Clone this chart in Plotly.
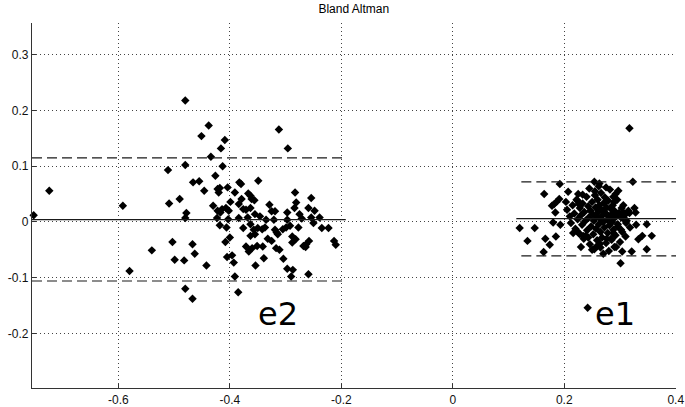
import plotly.graph_objects as go

# difference points (x = mean, y = difference)
e2_pts = [
    (-0.480, 0.218), (-0.480, 0.102), (-0.511, 0.093), (-0.724, 0.056), (-0.466, 0.071),
    (-0.455, 0.073), (-0.490, 0.041), (-0.509, 0.033), (-0.592, 0.029), (-0.478, 0.016),
    (-0.480, 0.007), (-0.752, 0.012), (-0.503, -0.036), (-0.467, -0.040), (-0.540, -0.051),
    (-0.463, -0.057), (-0.499, -0.068), (-0.482, -0.069), (-0.580, -0.088), (-0.480, -0.120),
    (-0.467, -0.138),
    (-0.438, 0.173), (-0.451, 0.154), (-0.409, 0.147), (-0.416, 0.132), (-0.312, 0.166),
    (-0.296, 0.132),
    (-0.434, 0.117), (-0.413, 0.100), (-0.426, 0.083), (-0.446, 0.056), (-0.422, 0.059),
    (-0.418, 0.061), (-0.404, 0.062), (-0.383, 0.071), (-0.380, 0.068), (-0.349, 0.074),
    (-0.391, 0.053), (-0.367, 0.051), (-0.363, 0.047), (-0.356, 0.039), (-0.361, 0.041),
    (-0.379, 0.041), (-0.399, 0.036), (-0.420, 0.053),
    (-0.430, 0.029), (-0.422, 0.020), (-0.414, 0.023), (-0.407, 0.025), (-0.402, 0.020),
    (-0.417, 0.017), (-0.384, 0.032), (-0.376, 0.023), (-0.371, 0.022), (-0.363, 0.025),
    (-0.329, 0.031), (-0.325, 0.019), (-0.319, 0.019), (-0.297, 0.017), (-0.283, 0.053),
    (-0.281, 0.035), (-0.254, 0.043), (-0.284, 0.025), (-0.259, 0.025), (-0.248, 0.020),
    (-0.275, 0.014),
    (-0.423, 0.007), (-0.403, 0.005), (-0.384, 0.007), (-0.368, 0.008), (-0.355, 0.014),
    (-0.346, 0.010), (-0.335, 0.004), (-0.321, 0.004), (-0.297, 0.004), (-0.271, 0.006),
    (-0.254, 0.008), (-0.239, 0.008),
    (-0.418, -0.006), (-0.406, -0.010), (-0.376, -0.011), (-0.363, -0.004), (-0.357, -0.014),
    (-0.350, -0.011), (-0.342, -0.013), (-0.337, -0.010), (-0.319, -0.014), (-0.316, -0.019),
    (-0.305, -0.013), (-0.299, -0.010), (-0.292, -0.007), (-0.277, -0.010), (-0.250, -0.002),
    (-0.235, -0.011), (-0.223, -0.011),
    (-0.400, -0.028), (-0.363, -0.025), (-0.355, -0.022), (-0.332, -0.030), (-0.325, -0.034),
    (-0.314, -0.022), (-0.288, -0.026), (-0.282, -0.031), (-0.288, -0.037), (-0.408, -0.036),
    (-0.371, -0.044), (-0.360, -0.047), (-0.351, -0.043), (-0.341, -0.044), (-0.317, -0.047),
    (-0.311, -0.050), (-0.268, -0.043), (-0.263, -0.040), (-0.264, -0.045), (-0.258, -0.034),
    (-0.213, -0.034), (-0.210, -0.041),
    (-0.366, -0.053), (-0.396, -0.060), (-0.405, -0.063), (-0.393, -0.073), (-0.339, -0.065),
    (-0.304, -0.066), (-0.354, -0.078), (-0.297, -0.084), (-0.287, -0.086), (-0.290, -0.098),
    (-0.259, -0.094), (-0.391, -0.098), (-0.385, -0.126), (-0.442, -0.078),
]

e1_pts = [
    (0.192, 0.068), (0.254, 0.072), (0.164, 0.050), (0.207, 0.054), (0.191, 0.041),
    (0.186, 0.036), (0.182, 0.032), (0.178, 0.029), (0.203, 0.036), (0.184, 0.017),
    (0.180, -0.001), (0.193, -0.005), (0.120, -0.011), (0.147, -0.011), (0.185, -0.026),
    (0.166, -0.030), (0.134, -0.034), (0.174, -0.041), (0.163, -0.054), (0.242, -0.154),
    (0.224, 0.038), (0.226, 0.032), (0.233, 0.049), (0.222, -0.016), (0.228, -0.022),
    (0.234, -0.025), (0.243, -0.028), (0.254, -0.049),
    (0.317, 0.168), (0.323, 0.072), (0.263, 0.069), (0.297, 0.056), (0.292, 0.050),
    (0.288, 0.045), (0.290, 0.036), (0.303, 0.025), (0.326, 0.025), (0.328, 0.017),
    (0.317, 0.016), (0.307, 0.016), (0.329, -0.005), (0.348, -0.004), (0.340, -0.025),
    (0.357, -0.025), (0.333, -0.031), (0.348, -0.049), (0.304, -0.053), (0.321, -0.053),
    (0.270, -0.057), (0.301, -0.074), (0.293, -0.045), (0.285, -0.032), (0.276, -0.030),
    (0.288, -0.020), (0.258, -0.044), (0.264, -0.039), (0.296, -0.008), (0.302, -0.014),
    (0.311, -0.002), (0.308, 0.004),
    # dense core
    (0.205, 0.022), (0.210, 0.010), (0.212, -0.002), (0.215, 0.030), (0.218, 0.015),
    (0.220, -0.012), (0.222, 0.040), (0.224, 0.005), (0.226, -0.020), (0.228, 0.025),
    (0.230, 0.012), (0.232, -0.005), (0.233, 0.033), (0.235, -0.030), (0.236, 0.018),
    (0.238, 0.002), (0.240, 0.045), (0.241, -0.015), (0.243, 0.028), (0.244, 0.008),
    (0.246, -0.040), (0.247, 0.020), (0.248, -0.008), (0.250, 0.036), (0.251, 0.014),
    (0.252, -0.022), (0.253, 0.002), (0.255, 0.048), (0.256, 0.026), (0.257, -0.012),
    (0.258, 0.010), (0.259, -0.033), (0.260, 0.040), (0.261, 0.018), (0.262, -0.004),
    (0.263, 0.030), (0.264, 0.006), (0.265, -0.018), (0.266, 0.052), (0.267, 0.022),
    (0.268, -0.028), (0.269, 0.012), (0.270, 0.000), (0.271, 0.034), (0.272, -0.010),
    (0.273, 0.044), (0.274, 0.016), (0.275, -0.038), (0.276, 0.026), (0.277, 0.004),
    (0.278, -0.020), (0.279, 0.038), (0.280, 0.010), (0.281, -0.006), (0.282, 0.058),
    (0.283, 0.024), (0.284, -0.030), (0.285, 0.014), (0.286, 0.000), (0.287, 0.030),
    (0.288, -0.014), (0.289, 0.006), (0.290, 0.020), (0.292, -0.024), (0.293, 0.010),
    (0.295, 0.040), (0.296, -0.004), (0.298, 0.016), (0.300, -0.036), (0.302, 0.008),
    (0.304, -0.018), (0.306, 0.030), (0.308, 0.012), (0.310, -0.026), (0.312, 0.002),
    (0.315, 0.020), (0.318, -0.010), (0.245, 0.060), (0.262, 0.064), (0.275, 0.062),
    (0.230, -0.045), (0.250, -0.050), (0.265, -0.046), (0.280, -0.052), (0.290, -0.045),
    (0.255, 0.055), (0.238, -0.025), (0.216, -0.020), (0.225, 0.050),
]

# mean / limits of agreement and horizontal extent of each group
e2_mean, e2_upper, e2_lower = 0.004, 0.115, -0.106
e2_span = [-0.755, -0.192]
e1_mean, e1_upper, e1_lower = 0.006, 0.072, -0.061
e1_span_solid = [0.114, 0.41]
e1_span_dash = [0.123, 0.41]

x_ticks = [-0.6, -0.4, -0.2, 0, 0.2, 0.4]
x_labels = ["-0.6", "-0.4", "-0.2", "0", "0.2", "0.4"]
y_ticks = [-0.2, -0.1, 0, 0.1, 0.2, 0.3]
y_labels = ["-0.2", "-0.1", "0", "0.1", "0.2", "0.3"]

fig = go.Figure()

for pts in (e2_pts, e1_pts):
    fig.add_trace(go.Scatter(
        x=[p[0] for p in pts], y=[p[1] for p in pts], mode="markers",
        marker=dict(symbol="diamond", size=6.5, color="black"),
        showlegend=False, cliponaxis=False,
    ))

line_solid = dict(color="#1a1a1a", width=1.2)
line_dash = dict(color="#1a1a1a", width=1.2, dash="10px,5px")

fig.add_trace(go.Scatter(x=e2_span, y=[e2_mean] * 2, mode="lines", line=line_solid, showlegend=False))
fig.add_trace(go.Scatter(x=e2_span, y=[e2_upper] * 2, mode="lines", line=line_dash, showlegend=False))
fig.add_trace(go.Scatter(x=e2_span, y=[e2_lower] * 2, mode="lines", line=line_dash, showlegend=False))
fig.add_trace(go.Scatter(x=e1_span_solid, y=[e1_mean] * 2, mode="lines", line=line_solid, showlegend=False))
fig.add_trace(go.Scatter(x=e1_span_dash, y=[e1_upper] * 2, mode="lines", line=line_dash, showlegend=False))
fig.add_trace(go.Scatter(x=e1_span_dash, y=[e1_lower] * 2, mode="lines", line=line_dash, showlegend=False))

label_font = dict(family="DejaVu Sans", size=32, color="black")
fig.add_annotation(x=-0.313, y=-0.165, text="e2", showarrow=False, font=label_font)
fig.add_annotation(x=0.291, y=-0.165, text="e1", showarrow=False, font=label_font)

axis_common = dict(
    showline=True, linecolor="#333333", linewidth=1.2, mirror=False,
    ticks="inside", ticklen=4, tickcolor="#333333",
    showgrid=True, gridcolor="#444444", griddash="1px,3px", gridwidth=1,
    zeroline=False, automargin=False,
    tickfont=dict(family="Liberation Sans", size=12, color="#111111"),
)

fig.update_xaxes(range=[-0.755, 0.4005], tickvals=x_ticks, ticktext=x_labels, **axis_common)
fig.update_yaxes(range=[-0.298, 0.357], tickvals=y_ticks, ticktext=y_labels, **axis_common)

fig.update_layout(
    width=685, height=407,
    margin=dict(l=32, r=9, t=23, b=19, autoexpand=False),
    paper_bgcolor="white", plot_bgcolor="white",
    title=dict(text="Bland Altman", x=0.5165, xanchor="center", yref="container",
               y=0.978, yanchor="middle", automargin=False,
               font=dict(family="Liberation Sans", size=12, color="black")),
)

# page body has a default 8px margin; drop it so the figure sits at the window corner
fig.write_html("out.html", config={"displayModeBar": False},
               post_script="document.body.style.margin = '0';")
